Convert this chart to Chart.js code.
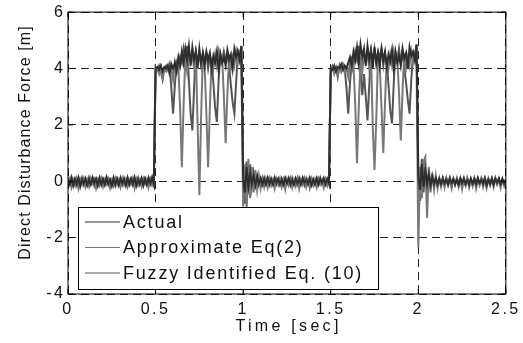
<!DOCTYPE html>
<html>
<head>
<meta charset="utf-8">
<script src="https://cdn.jsdelivr.net/npm/chart.js@4.4.1/dist/chart.umd.min.js"></script>
<style>
  html, body { margin: 0; padding: 0; background: #fff; }
  #wrap { width: 523px; height: 343px; position: relative; }
</style>
</head>
<body>
<div id="wrap"><canvas id="chart"></canvas></div>
<script>
// sampled every 10 ms, 0 .. 2.5 s
const dt = 0.01;
const seriesNames = ['Actual', 'Approximate Eq(2)', 'Fuzzy Identified Eq. (10)'];
const xTicks = [0, 0.5, 1, 1.5, 2, 2.5];
const yTicks = [-4, -2, 0, 2, 4, 6];
const xTitle = 'Time [sec]';
const yTitle = 'Direct Disturbance Force [m]';

const actual = [
  0.05,-0.12,0.1,-0.15,0.08,-0.1,0.12,-0.18,0.06,-0.08,
  0.1,-0.14,0.04,-0.12,0.13,-0.06,0.09,-0.16,0.11,-0.1,
  0.07,-0.13,0.12,-0.09,0.05,-0.17,0.1,-0.11,0.08,-0.14,
  0.12,-0.07,0.06,-0.15,0.1,-0.12,0.09,-0.1,0.13,-0.16,
  0.05,-0.09,0.11,-0.13,0.08,-0.12,0.1,-0.08,0.14,-0.1,
  4.0,4.05,3.95,4.1,3.9,4.05,4.0,4.1,3.85,4.15,
  4.0,4.2,3.9,4.4,4.1,4.6,4.2,4.7,4.3,4.8,
  4.1,4.75,4.3,4.6,4.0,4.7,4.2,4.5,4.1,4.6,
  4.3,4.55,4.0,4.45,4.2,4.6,3.95,4.5,4.2,4.4,
  4.1,4.65,4.3,4.5,4.0,4.7,4.4,4.6,4.3,4.8,
  0.1,-0.4,0.5,-0.2,0.3,-0.1,0.2,-0.15,0.15,-0.1,
  0.1,-0.12,0.08,-0.1,0.12,-0.08,0.06,-0.12,0.1,-0.06,
  0.08,-0.1,0.05,-0.13,0.09,-0.07,0.11,-0.1,0.04,-0.12,
  0.1,-0.08,0.07,-0.11,0.12,-0.06,0.05,-0.1,0.09,-0.14,
  0.06,-0.09,0.1,-0.12,0.08,-0.05,0.11,-0.1,0.07,-0.08,
  4.0,3.95,4.1,3.9,4.05,4.0,4.15,3.95,4.1,4.0,
  4.2,4.4,4.1,4.6,4.3,4.75,4.2,4.85,4.4,4.7,
  4.1,4.8,4.3,4.65,4.0,4.75,4.2,4.55,4.1,4.7,
  4.3,4.6,4.05,4.5,4.25,4.65,4.0,4.55,4.2,4.45,
  4.1,4.7,4.35,4.55,4.0,4.75,4.45,4.6,4.3,4.85,
  0.2,-0.3,0.6,-0.2,0.4,-0.1,0.25,-0.15,0.15,-0.1,
  0.1,-0.12,0.08,-0.1,0.12,-0.08,0.06,-0.12,0.1,-0.06,
  0.08,-0.1,0.05,-0.13,0.09,-0.07,0.11,-0.1,0.04,-0.12,
  0.1,-0.08,0.07,-0.11,0.12,-0.06,0.05,-0.1,0.09,-0.14,
  0.06,-0.09,0.1,-0.12,0.08,-0.05,0.11,-0.1,0.07,-0.08,0.05
];

const approx = [
  -0.1,0.08,-0.22,0.05,-0.15,0.1,-0.25,0.06,-0.12,0.09,
  -0.2,0.04,-0.18,0.1,-0.08,0.07,-0.24,0.05,-0.14,0.11,
  -0.19,0.06,-0.1,0.08,-0.23,0.03,-0.16,0.1,-0.12,0.05,
  -0.21,0.09,-0.13,0.06,-0.2,0.04,-0.11,0.1,-0.24,0.07,
  -0.15,0.05,-0.18,0.09,-0.1,0.06,-0.22,0.08,-0.14,0.05,
  3.9,4.0,3.8,4.05,3.7,4.0,3.9,4.1,3.8,4.0,
  3.6,4.2,3.9,4.1,2.6,0.5,2.7,4.4,3.9,4.6,
  4.2,4.5,4.0,4.6,2.0,-0.5,2.3,4.5,4.1,2.4,
  0.5,2.6,4.4,4.0,4.5,4.1,4.6,4.2,4.4,3.0,
  1.35,3.1,4.5,4.0,4.4,4.1,4.6,4.2,4.5,4.0,
  -0.9,0.6,-1.0,0.8,-0.6,0.5,-0.4,0.4,-0.3,0.2,
  -0.25,0.1,-0.2,0.08,-0.22,0.1,-0.15,0.05,-0.25,0.08,
  -0.12,0.1,-0.2,0.05,-0.28,0.07,-0.14,0.1,-0.22,0.04,
  -0.18,0.09,-0.26,0.06,-0.12,0.1,-0.2,0.05,-0.24,0.08,
  -0.15,0.06,-0.21,0.09,-0.11,0.05,-0.23,0.07,-0.16,0.05,
  3.9,4.05,3.8,4.0,3.75,4.05,3.9,4.1,3.85,4.0,
  3.7,4.2,3.9,4.1,2.7,0.64,2.6,4.4,3.9,4.5,
  4.2,4.6,4.0,4.5,1.9,0.4,2.2,4.5,4.1,2.6,
  1.0,2.8,4.4,4.0,4.5,4.1,4.6,4.2,4.4,3.1,
  1.45,3.2,4.5,4.0,4.4,4.1,4.6,4.2,4.5,4.1,
  -2.35,0.5,-0.6,0.7,0.86,-1.3,0.5,-0.4,0.3,-0.3,
  0.2,-0.25,0.1,-0.2,0.08,-0.22,0.1,-0.15,0.05,-0.25,
  0.08,-0.12,0.1,-0.2,0.05,-0.28,0.07,-0.14,0.1,-0.22,
  0.04,-0.18,0.09,-0.26,0.06,-0.12,0.1,-0.2,0.05,-0.24,
  0.08,-0.15,0.06,-0.21,0.09,-0.11,0.05,-0.23,0.07,-0.16,0.05
];

const fuzzy = [
  0.12,-0.05,0.15,-0.1,0.06,-0.14,0.1,-0.04,0.13,-0.12,
  0.08,-0.1,0.14,-0.06,0.1,-0.15,0.05,-0.09,0.12,-0.13,
  0.09,-0.05,0.15,-0.11,0.07,-0.08,0.13,-0.14,0.1,-0.06,
  0.05,-0.12,0.11,-0.09,0.14,-0.1,0.06,-0.13,0.09,-0.07,
  0.12,-0.11,0.08,-0.15,0.1,-0.06,0.13,-0.09,0.07,-0.12,
  4.05,3.95,4.1,3.9,3.6,4.0,4.1,3.95,4.15,3.3,
  2.4,3.4,4.2,4.0,4.4,4.2,4.7,4.3,4.8,3.6,
  2.4,1.8,3.3,4.6,4.3,4.5,4.1,4.6,4.3,4.5,
  4.0,4.4,4.2,3.5,2.6,2.1,3.6,4.5,4.2,4.6,
  4.3,4.5,4.1,3.4,2.8,2.4,3.5,4.6,4.4,4.8,
  0.3,-0.8,0.7,-0.3,0.6,-0.2,0.3,-0.1,0.2,-0.12,
  0.1,-0.08,0.12,-0.1,0.06,-0.13,0.1,-0.07,0.13,-0.1,
  0.08,-0.12,0.1,-0.06,0.12,-0.1,0.07,-0.14,0.11,-0.08,
  0.06,-0.11,0.12,-0.07,0.09,-0.13,0.1,-0.05,0.13,-0.1,
  0.07,-0.12,0.1,-0.08,0.12,-0.1,0.06,-0.11,0.09,-0.1,
  4.0,4.1,3.95,4.05,3.7,4.1,3.9,4.15,4.0,3.3,
  2.4,3.5,4.3,4.1,4.6,4.3,4.8,3.9,3.05,3.8,
  3.0,2.16,3.4,4.6,4.3,4.7,4.2,4.6,4.4,4.7,
  4.1,4.5,4.2,3.4,2.5,2.05,3.5,4.6,4.3,4.7,
  4.2,4.6,4.0,3.5,2.9,2.4,3.6,4.5,4.4,4.85,
  0.4,-0.7,0.8,-0.4,0.5,-0.2,0.3,-0.15,0.2,-0.1,
  0.12,-0.08,0.1,-0.12,0.06,-0.13,0.1,-0.07,0.13,-0.1,
  0.08,-0.12,0.1,-0.06,0.12,-0.1,0.07,-0.14,0.11,-0.08,
  0.06,-0.11,0.12,-0.07,0.09,-0.13,0.1,-0.05,0.13,-0.1,
  0.07,-0.12,0.1,-0.08,0.12,-0.1,0.06,-0.11,0.09,-0.1,0.08
];

const time = actual.map((v, i) => +(i * dt).toFixed(2));
const colors = ['#2e2e2e', '#787878', '#555555'];
const FONT = "'Liberation Sans', Arial, sans-serif";

const toPoints = arr => arr.map((v, i) => ({ x: time[i], y: v }));

// box, inner ticks, axis titles and the legend, MATLAB style
const frame = {
  id: 'frame',
  beforeDraw(chart) {
    chart.ctx.letterSpacing = '2.5px';
  },
  afterDraw(chart) {
    const { ctx, chartArea: a, scales: { x, y } } = chart;
    ctx.save();
    ctx.setLineDash([]);
    ctx.strokeStyle = '#000';
    ctx.lineWidth = 1;
    ctx.strokeRect(a.left, a.top, a.right - a.left, a.bottom - a.top);

    ctx.beginPath();
    x.ticks.forEach(t => {
      const px = x.getPixelForValue(t.value);
      ctx.moveTo(px, a.bottom); ctx.lineTo(px, a.bottom - 5);
      ctx.moveTo(px, a.top); ctx.lineTo(px, a.top + 5);
    });
    y.ticks.forEach(t => {
      const py = y.getPixelForValue(t.value);
      ctx.moveTo(a.left, py); ctx.lineTo(a.left + 5, py);
      ctx.moveTo(a.right, py); ctx.lineTo(a.right - 5, py);
    });
    ctx.stroke();

    // axis titles
    ctx.fillStyle = '#111';
    ctx.textBaseline = 'middle';
    ctx.textAlign = 'center';
    ctx.font = '16px ' + FONT;
    ctx.letterSpacing = '3.3px';
    ctx.fillText(xTitle, (a.left + a.right) / 2 + 1.6, 327);
    ctx.save();
    ctx.translate(25.5, 143);
    ctx.rotate(-Math.PI / 2);
    ctx.letterSpacing = '1.1px';
    ctx.fillText(yTitle, 0.5, 0);
    ctx.restore();

    // legend
    const lx = 78, ly = 207, lw = 300, lh = 82;
    ctx.fillStyle = '#fff';
    ctx.fillRect(lx, ly, lw, lh);
    ctx.strokeStyle = '#000';
    ctx.lineWidth = 1;
    ctx.strokeRect(lx + 0.5, ly + 0.5, lw, lh);
    ctx.font = '18px ' + FONT;
    ctx.letterSpacing = '1.8px';
    ctx.textAlign = 'left';
    chart.data.datasets.forEach((ds, i) => {
      const ry = 222 + i * 25.5;
      ctx.strokeStyle = ds.borderColor;
      ctx.lineWidth = 1.2;
      ctx.beginPath();
      ctx.moveTo(85, ry); ctx.lineTo(120, ry);
      ctx.stroke();
      ctx.fillStyle = '#111';
      ctx.fillText(ds.label, 123, ry + 1);
    });
    ctx.restore();
  }
};

new Chart(document.getElementById('chart'), {
  type: 'line',
  data: {
    datasets: [actual, approx, fuzzy].map((arr, i) => ({
      label: seriesNames[i],
      data: toPoints(arr),
      borderColor: colors[i],
      backgroundColor: 'transparent',
      borderWidth: 2,
      pointRadius: 0,
      tension: 0
    }))
  },
  options: {
    responsive: true,
    maintainAspectRatio: false,
    animation: false,
    layout: { padding: { top: 12, right: 16, left: 0, bottom: 0 } },
    plugins: { legend: { display: false }, tooltip: { enabled: false } },
    scales: {
      x: {
        type: 'linear',
        min: 0,
        max: 2.5,
        afterBuildTicks: s => { s.ticks = xTicks.map(v => ({ value: v })); },
        afterFit: s => { s.height = 49; },
        ticks: { color: '#111', padding: 6, maxRotation: 0, font: { family: FONT, size: 16 }, callback: v => String(v) },
        grid: { color: '#222', lineWidth: 1, drawTicks: false },
        border: { display: false, dash: [8, 5] }
      },
      y: {
        min: -4,
        max: 6,
        afterBuildTicks: s => { s.ticks = yTicks.map(v => ({ value: v })); },
        afterFit: s => { s.width = 68; },
        ticks: { color: '#111', padding: 2.5, font: { family: FONT, size: 16 }, callback: v => String(v) },
        grid: { color: '#222', lineWidth: 1, drawTicks: false },
        border: { display: false, dash: [8, 5] }
      }
    }
  },
  plugins: [frame]
});
</script>
</body>
</html>
